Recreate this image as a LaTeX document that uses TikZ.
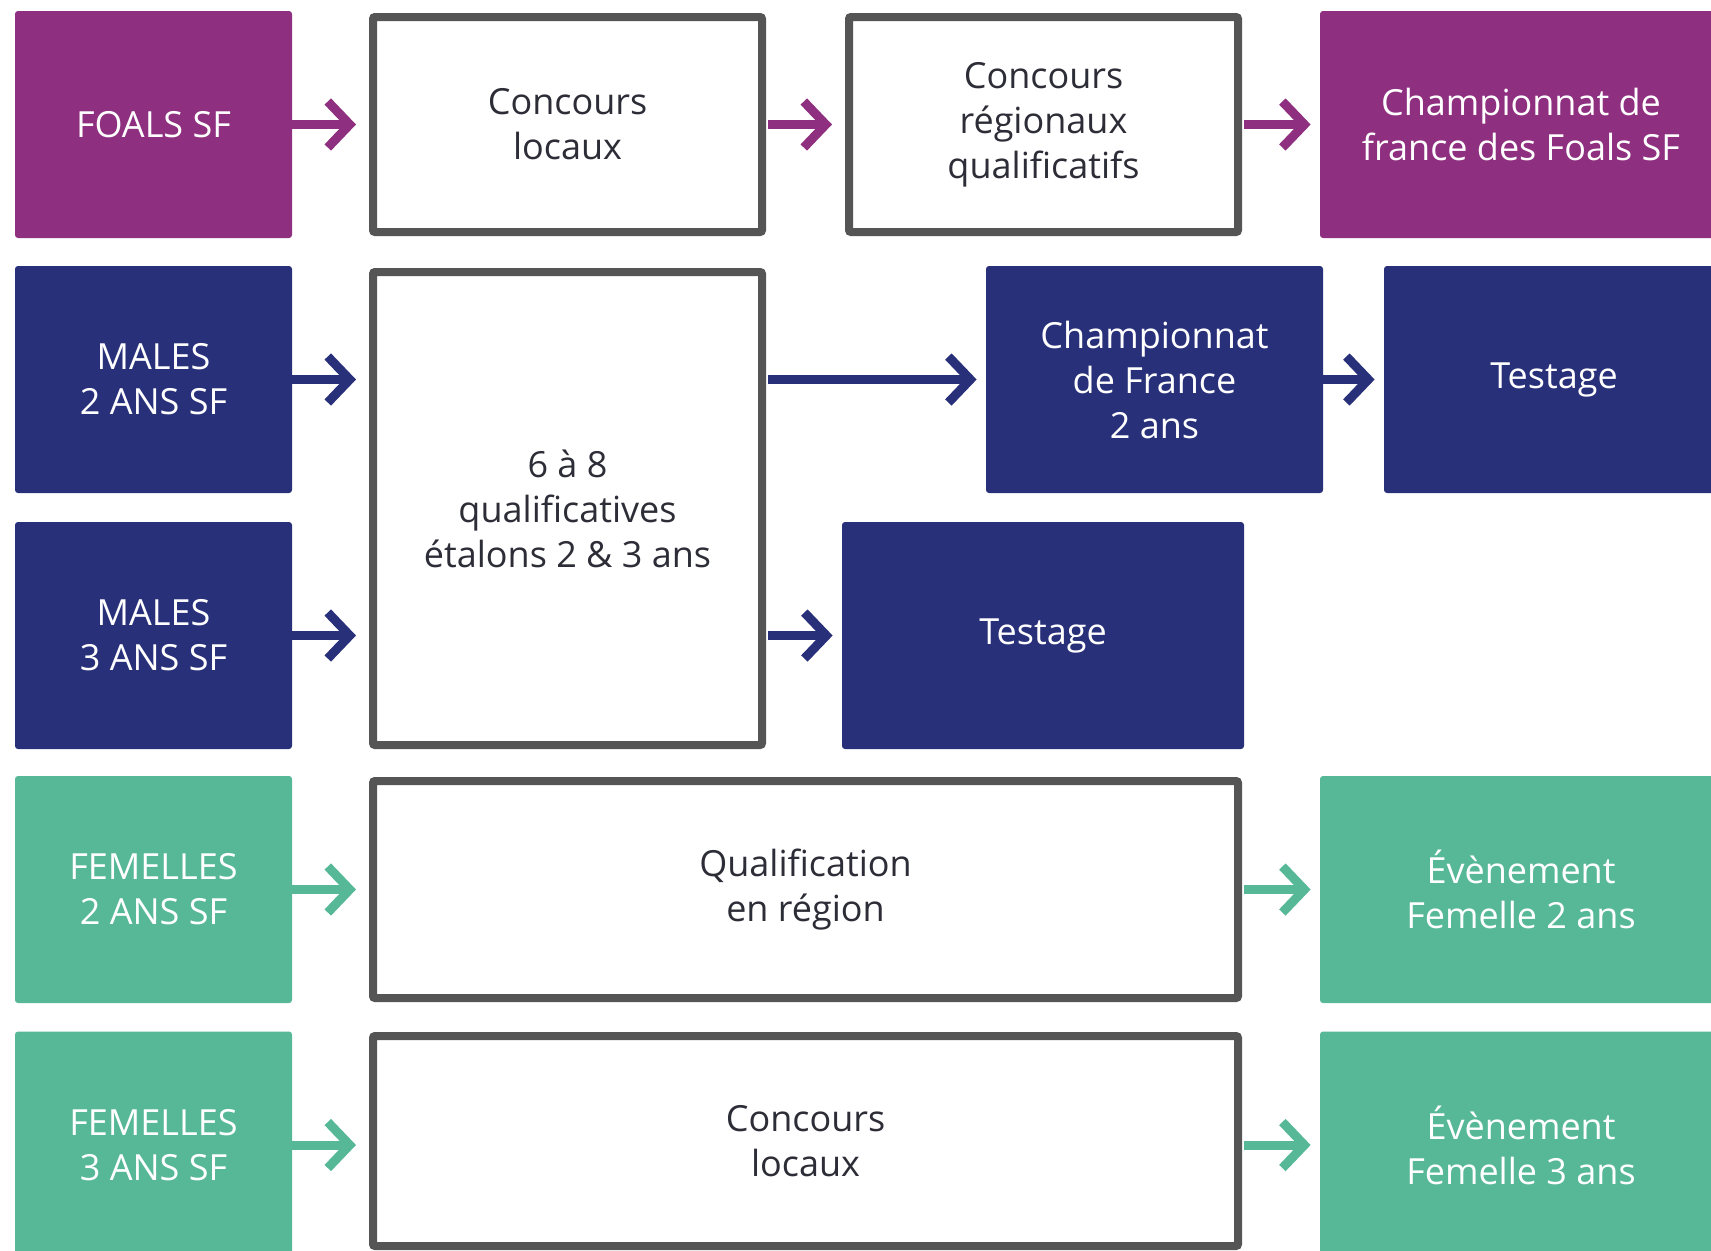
\documentclass[tikz,border=0pt]{standalone}
\usepackage{fontspec}
\setmainfont{Open Sans}
\usetikzlibrary{arrows.meta}

\definecolor{foalpurple}{RGB}{142,47,127}
\definecolor{malenavy}{RGB}{40,48,122}
\definecolor{femgreen}{RGB}{86,184,150}
\definecolor{framegray}{RGB}{85,85,85}
\definecolor{textgray}{RGB}{45,45,55}

\begin{document}
\begin{tikzpicture}[x=0.5pt, y=-0.5pt,
    every node/.style={align=center, inner sep=0pt, font=\fontsize{18pt}{22.5pt}\selectfont},
    filled/.style={fill=#1, text=white, rounded corners=1.5pt, minimum height=113.5pt},
    framed/.style={draw=framegray, line width=4pt, fill=white, text=textgray, rounded corners=1pt},
    flow/.style={draw=#1, line width=4.5pt, -{Straight Barb[length=11pt,width=23pt]}}]

    \useasboundingbox (0,0) rectangle (1711,1250);

    % Foals
    \node[filled=foalpurple, minimum width=138.5pt] (foals) at (153.5,124.5) {FOALS SF};
    \node[framed, minimum width=194.5pt, minimum height=107.5pt] (locauxA) at (567.5,124.5) {Concours\\locaux};
    \node[framed, minimum width=194.5pt, minimum height=107.5pt] (regionaux) at (1043.5,124.5) {Concours\\régionaux\\qualificatifs};
    \node[filled=foalpurple, minimum width=201pt] (champFoals) at (1521,124.5) {Championnat de\\france des Foals SF};

    \draw[flow=foalpurple, shorten >=6.5pt] (foals) -- (locauxA);
    \draw[flow=foalpurple, shorten <=1pt, shorten >=6.5pt] (locauxA) -- (regionaux);
    \draw[flow=foalpurple, shorten <=1pt, shorten >=4.5pt] (regionaux) -- (champFoals);

    % Males 2 et 3 ans
    \node[filled=malenavy, minimum width=138.5pt] (males2) at (153.5,379.5) {MALES\\2 ANS SF};
    \node[filled=malenavy, minimum width=138.5pt] (males3) at (153.5,635.5) {MALES\\3 ANS SF};
    \node[framed, minimum width=194.5pt, minimum height=236.5pt] (qualif) at (567.5,508.5) {6 à 8\\qualificatives\\étalons 2 \& 3 ans};
    \node[filled=malenavy, minimum width=168.5pt] (champ2) at (1154.5,379.5) {Championnat\\de France\\2 ans};
    \node[filled=malenavy, minimum width=170pt] (testA) at (1554,379.5) {Testage};
    \node[filled=malenavy, minimum width=201pt] (testB) at (1043,635.5) {Testage};

    \draw[flow=malenavy, shorten >=6.5pt] (males2.east) -- (males2.east -| qualif.west);
    \draw[flow=malenavy, shorten >=6.5pt] (males3.east) -- (males3.east -| qualif.west);
    \draw[flow=malenavy, shorten <=1pt, shorten >=4.5pt] (champ2.west -| qualif.east) -- (champ2.west);
    \draw[flow=malenavy, shorten <=1pt, shorten >=4.5pt] (testB.west -| qualif.east) -- (testB.west);
    \draw[flow=malenavy, shorten >=4.5pt] (champ2) -- (testA);

    % Femelles 2 et 3 ans
    \node[filled=femgreen, minimum width=138.5pt] (fem2) at (153.5,889.5) {FEMELLES\\2 ANS SF};
    \node[filled=femgreen, minimum width=138.5pt] (fem3) at (153.5,1145) {FEMELLES\\3 ANS SF};
    \node[framed, minimum width=432.5pt, minimum height=108.5pt] (qualifRegion) at (805.5,889.5) {Qualification\\en région};
    \node[framed, minimum width=432.5pt, minimum height=105pt] (locauxB) at (805.5,1141) {Concours\\locaux};
    \node[filled=femgreen, minimum width=201pt] (event2) at (1521,889.5) {Évènement\\Femelle 2 ans};
    \node[filled=femgreen, minimum width=201pt] (event3) at (1521,1145) {Évènement\\Femelle 3 ans};

    \draw[flow=femgreen, shorten >=6.5pt] (fem2) -- (qualifRegion);
    \draw[flow=femgreen, shorten <=1pt, shorten >=4.5pt] (qualifRegion) -- (event2);
    \draw[flow=femgreen, shorten >=6.5pt] (fem3.east) -- (fem3.east -| locauxB.west);
    \draw[flow=femgreen, shorten <=1pt, shorten >=4.5pt] (fem3.east -| locauxB.east) -- (event3.west);
\end{tikzpicture}
\end{document}
